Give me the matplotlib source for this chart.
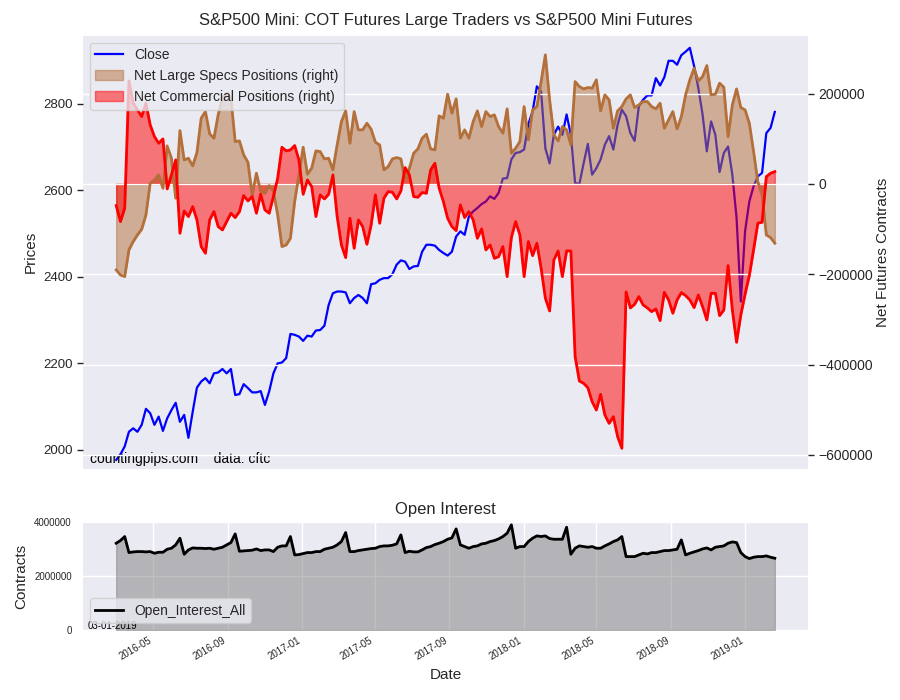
import matplotlib
matplotlib.use("Agg")
import matplotlib.pyplot as plt
import matplotlib.dates as mdates
import pandas as pd

# ── Data (weekly COT report dates, Tuesdays) ─────────────────────────────
dates = pd.date_range("2016-03-01", periods=156, freq="W-TUE")

close = [
    1977, 1990, 2008, 2042, 2050, 2042, 2058, 2095, 2085, 2058,
    2077, 2044, 2073, 2092, 2109, 2065, 2081, 2028, 2088, 2144,
    2158, 2166, 2154, 2177, 2179, 2187, 2177, 2187, 2127, 2129,
    2152, 2143, 2133, 2133, 2136, 2104, 2135, 2177, 2200, 2202,
    2212, 2268, 2266, 2262, 2252, 2264, 2262, 2276, 2277, 2287,
    2335, 2362, 2366, 2366, 2364, 2339, 2351, 2358, 2351, 2339,
    2383, 2385, 2393, 2397, 2397, 2406, 2428, 2438, 2435, 2418,
    2424, 2425, 2458, 2474, 2474, 2472, 2462, 2455, 2449, 2458,
    2493, 2505, 2497, 2539, 2551, 2559, 2568, 2574, 2586, 2580,
    2594, 2627, 2628, 2671, 2686, 2688, 2694, 2753, 2782, 2840,
    2828, 2697, 2662, 2728, 2747, 2728, 2775, 2728, 2617, 2614,
    2662, 2707, 2636, 2651, 2671, 2705, 2725, 2694, 2751, 2786,
    2771, 2732, 2714, 2794, 2809, 2819, 2819, 2859, 2842, 2861,
    2899, 2899, 2890, 2912, 2920, 2929, 2887, 2836, 2775, 2690,
    2759, 2728, 2642, 2686, 2701, 2636, 2536, 2343, 2505, 2574,
    2609, 2632, 2640, 2732, 2744, 2781,
]

large_specs = [
    -190400, -201500, -205200, -146100, -127700, -112900, -100400, -68600, 1500, 8900,
    19900, -9600, 84100, 56800, -31700, 118100, 53100, 56800, 39900, 69400,
    145400, 160100, 110700, 101100, 152800, 189700, 200700, 189700, 93700, 95200,
    64200, 48000, -24400, 23600, -17000, -20700, -3700, -17000, -68600, -138700,
    -135100, -120300, -39100, 19900, 81200, 21400, 34700, 73100, 71600, 55400,
    56800, 31000, 86300, 138000, 161600, 90000, 160100, 119600, 119600, 134300,
    121000, 92300, 86300, 31000, 38400, 55400, 58300, 55400, 8900, 34700,
    67900, 77500, 101100, 110000, 77500, 75300, 150600, 145400, 198500, 156500,
    188200, 101100, 119600, 101100, 138000, 161600, 126900, 160100, 149100, 152800,
    126900, 112200, 166100, 67900, 79000, 93700, 171200, 97400, 163800, 171200,
    226600, 285600, 186000, 108500, 95200, 126900, 119600, 86300, 226600, 215500,
    210300, 213300, 211800, 230300, 161600, 197000, 186000, 123200, 161600, 171200,
    188200, 197000, 169000, 174900, 182300, 182300, 171200, 166100, 178600, 123200,
    141700, 160100, 121800, 149100, 197000, 230300, 256100, 228000, 237600, 262000,
    197000, 198500, 222900, 214000, 104800, 174900, 210300, 169000, 163800, 134300,
    71600, 5200, -24400, -113000, -118800, -131300,
]

commercial = [
    -48000, -83400, -53900, 228000, 178600, 163800, 149100, 178600, 130600, 104800,
    90000, 99600, -11100, 19900, 53100, -109200, -59800, -72300, -50200, -79700,
    -138700, -153500, -79700, -61300, -94500, -101800, -83400, -64900, -74500, -61300,
    -25800, -37600, -28000, -64900, -22900, -57600, -64900, -28000, 12500, 81200,
    73100, 75300, 84900, 53100, -22900, 8900, -5900, -72300, -24400, -33200,
    -22900, 19900, -72300, -135100, -163100, -76000, -142400, -79700, -94500, -133600,
    -90800, -24400, -87100, -31700, -17000, -18500, -33200, -15500, 36200, 19900,
    -28000, -29500, -19200, -20700, 31000, 45800, -9600, -39100, -76000, -94500,
    -103300, -46500, -74500, -61300, -79700, -120300, -99600, -146100, -135100, -164600,
    -160900, -138700, -205200, -118800, -83400, -112900, -205200, -127700, -158700, -131400,
    -186700, -253100, -281200, -168300, -148300, -205200, -148300, -148300, -382300, -436200,
    -441400, -451000, -481900, -500400, -465700, -511400, -529900, -515100, -559400, -585200,
    -239100, -274500, -266400, -249400, -267900, -274500, -282700, -276800, -302600, -239900,
    -256800, -286300, -256800, -240600, -247200, -256800, -273800, -245800, -271600, -301100,
    -242100, -242100, -291500, -279000, -180800, -279000, -350600, -290000, -244300, -203000,
    -146100, -87100, -84900, 16200, 23600, 27300,
]

open_interest = [
    3220000, 3319000, 3468000, 2873000, 2898000, 2910000, 2910000, 2898000, 2910000, 2848000,
    2885000, 2885000, 2997000, 3034000, 3158000, 3406000, 2811000, 2972000, 3046000, 3034000,
    3034000, 3022000, 3034000, 2997000, 3034000, 3071000, 3158000, 3245000, 3567000, 2923000,
    2935000, 2947000, 2960000, 3009000, 2947000, 2972000, 2972000, 2910000, 3071000, 3121000,
    3121000, 3468000, 2786000, 2799000, 2836000, 2873000, 2873000, 2910000, 2910000, 2997000,
    3034000, 3071000, 3158000, 3282000, 3616000, 2910000, 2910000, 2947000, 2972000, 2997000,
    3022000, 3034000, 3096000, 3121000, 3121000, 3146000, 3195000, 3529000, 2873000, 2923000,
    2898000, 2898000, 2972000, 3059000, 3096000, 3170000, 3220000, 3282000, 3368000, 3418000,
    3752000, 3158000, 3096000, 3034000, 3096000, 3121000, 3195000, 3220000, 3282000, 3319000,
    3381000, 3468000, 3591000, 3901000, 3034000, 3096000, 3096000, 3282000, 3406000, 3492000,
    3468000, 3492000, 3393000, 3368000, 3368000, 3368000, 3814000, 2811000, 3034000, 3121000,
    3096000, 3071000, 3096000, 3034000, 3034000, 3121000, 3195000, 3282000, 3344000, 3468000,
    2724000, 2724000, 2724000, 2786000, 2848000, 2823000, 2873000, 2873000, 2910000, 2947000,
    2947000, 2972000, 2997000, 3344000, 2786000, 2848000, 2898000, 2947000, 3009000, 3046000,
    2972000, 3071000, 3096000, 3121000, 3220000, 3269000, 3245000, 2873000, 2724000, 2650000,
    2700000, 2724000, 2724000, 2749000, 2700000, 2663000,
]

# ── Style ─────────────────────────────────────────────────────────────────
plt.rcParams["font.family"] = ["Liberation Sans", "DejaVu Sans"]
BG = "#EAEAF2"
TXT = "#262626"
BROWN = "#B4703A"
plt.rcParams["text.color"] = TXT
plt.rcParams["axes.labelcolor"] = TXT
plt.rcParams["xtick.color"] = TXT
plt.rcParams["ytick.color"] = TXT

fig = plt.figure(figsize=(9, 7), dpi=100)
ax1 = fig.add_axes([0.092, 0.330, 0.806, 0.619])
ax3 = fig.add_axes([0.092, 0.100, 0.806, 0.154], sharex=ax1)
ax2 = ax1.twinx()

for a in (ax1, ax2, ax3):
    for s in a.spines.values():
        s.set_visible(False)
ax1.set_facecolor(BG)
ax3.set_facecolor(BG)

# ── Top chart: price + net positions ──────────────────────────────────────
ax1.plot(dates, close, color="blue", lw=1.6, label="Close")
ax1.set_ylim(1956, 2957)
ax1.set_yticks([2000, 2200, 2400, 2600, 2800])
ax1.set_ylabel("Prices", fontsize=11)
ax1.grid(False)

ax2.fill_between(dates, 0, large_specs, color=BROWN, alpha=0.5,
                 label="Net Large Specs Positions (right)")
ax2.plot(dates, large_specs, color=BROWN, lw=2)
ax2.fill_between(dates, 0, commercial, color="red", alpha=0.5,
                 label="Net Commercial Positions (right)")
ax2.plot(dates, commercial, color="red", lw=2)
ax2.set_ylim(-631000, 328000)
ax2.set_yticks([-600000, -400000, -200000, 0, 200000])
ax2.ticklabel_format(axis="y", style="plain")
ax2.set_ylabel("Net Futures Contracts", fontsize=11, labelpad=2)
ax2.grid(axis="y", color="white", lw=1)
ax2.grid(axis="x", visible=False)

ax1.tick_params(axis="y", length=4, width=1, labelsize=9.5, color=TXT)
ax2.tick_params(axis="y", length=4, width=1, labelsize=10, color=TXT)
ax1.tick_params(axis="x", which="both", length=0, labelbottom=False)
ax2.tick_params(axis="x", which="both", length=0, labelbottom=False)

h1, l1 = ax1.get_legend_handles_labels()
h2, l2 = ax2.get_legend_handles_labels()
ax2.legend(h1 + h2, l1 + l2, loc="upper left", fontsize=10, frameon=True,
           facecolor=BG, edgecolor="#CCCCCC", framealpha=0.8,
           borderaxespad=0.5)

ax1.set_title("S&P500 Mini: COT Futures Large Traders vs S&P500 Mini Futures",
              fontsize=12, pad=8)
ax1.text(0.01, 0.013, "countingpips.com    data: cftc", transform=ax1.transAxes,
         fontsize=10, color="black")

# ── Bottom chart: open interest ───────────────────────────────────────────
ax3.fill_between(dates, 0, open_interest, color="gray", alpha=0.5)
ax3.plot(dates, open_interest, color="black", lw=2, label="Open_Interest_All")
ax3.set_ylim(0, 4000000)
ax3.set_yticks([0, 2000000, 4000000])
ax3.ticklabel_format(axis="y", style="plain")
ax3.grid(True, color="white", lw=1)
ax3.set_axisbelow(True)
ax3.tick_params(axis="y", length=0, labelsize=7, pad=8)
ax3.tick_params(axis="x", length=0, labelsize=7, pad=4)
ax3.xaxis.set_major_locator(mdates.MonthLocator(bymonth=[1, 5, 9]))
ax3.xaxis.set_major_formatter(mdates.DateFormatter("%Y-%m"))
for lab in ax3.get_xticklabels():
    lab.set_rotation(30)
    lab.set_ha("right")
ax3.set_xlabel("Date", fontsize=11)
ax3.set_ylabel("Contracts", fontsize=11)
ax3.set_title("Open Interest", fontsize=12)
ax3.legend(loc="lower left", fontsize=10, frameon=True, facecolor=BG,
           edgecolor="#CCCCCC", framealpha=0.8)
ax3.text(0.006, 0.01, "03-01-2019", transform=ax3.transAxes, fontsize=7,
         color="black")

ax1.set_xlim(dates[0] - pd.Timedelta(days=55), dates[-1] + pd.Timedelta(days=55))

fig.savefig("out.png", dpi=100)
